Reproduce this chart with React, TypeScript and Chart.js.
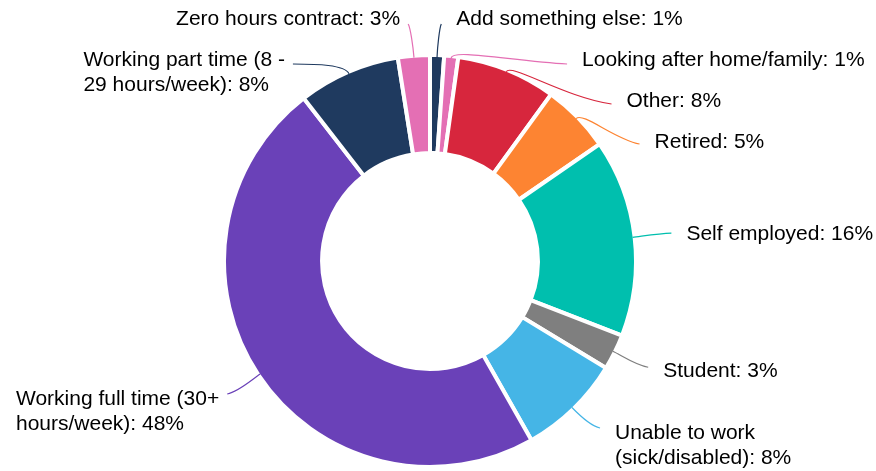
import React, { useEffect, useRef } from 'react';
import { Chart, registerables } from 'chart.js';

Chart.register(...registerables);

// Categories (explicit line breaks as in the reference)
const categories: string[][] = [
  ['Add something else'],
  ['Looking after home/family'],
  ['Other'],
  ['Retired'],
  ['Self employed'],
  ['Student'],
  ['Unable to work', '(sick/disabled)'],
  ['Working full time (30+', 'hours/week)'],
  ['Working part time (8 -', '29 hours/week)'],
  ['Zero hours contract'],
];

// Shares in percent
const shares: number[] = [1.1, 1.1, 7.8, 5.4, 15.5, 2.8, 8.1, 47.7, 8.0, 2.5];

const colors: string[] = [
  '#1f3a5f',
  '#e46fb4',
  '#d7263d',
  '#fd8432',
  '#00bfae',
  '#7f7f7f',
  '#45b5e6',
  '#6a41b8',
  '#1f3a5f',
  '#e46fb4',
];

const W = 876;
const H = 471;
const BORDER = 4;
const LABEL_DIST = 36;
const MIN_Y = 24;
const SLOT = 40;
const LINE_H = 25;
const BOTTOM_PAD = 18;
const FONT = '21px "Liberation Sans", Arial, Helvetica, sans-serif';

const labelPlugin = {
  id: 'outerLabels',
  afterDatasetsDraw(chart: any) {
    const ctx: CanvasRenderingContext2D = chart.ctx;
    const meta = chart.getDatasetMeta(0);
    const data: number[] = chart.data.datasets[0].data;
    const total = data.reduce((a, b) => a + b, 0);
    const h = chart.height;
    const items = meta.data.map((arc: any, i: number) => {
      const p = arc.getProps(['x', 'y', 'startAngle', 'endAngle', 'outerRadius'], true);
      const mid = (p.startAngle + p.endAngle) / 2;
      const ux = Math.cos(mid);
      const uy = Math.sin(mid);
      const rv = p.outerRadius - BORDER / 2;
      const rl = rv + LABEL_DIST;
      const lines = [...categories[i]];
      lines[lines.length - 1] += ': ' + Math.round((data[i] / total) * 100) + '%';
      return {
        i, cx: p.x, cy: p.y, ux, uy, rv, rl,
        tx: p.x + rv * ux, ty: p.y + rv * uy,
        nx: p.x + rl * ux, ny: p.y + rl * uy,
        right: ux >= 0, lines, ex: 0, ey: 0,
      };
    });
    for (const right of [true, false]) {
      const side = items.filter((it: any) => it.right === right).sort((a: any, b: any) => a.ny - b.ny);
      let prevY = -Infinity;
      let prevLines = 1;
      for (const it of side) {
        let y = Math.max(it.ny, MIN_Y, prevY + SLOT + (prevLines - 1) * LINE_H);
        y = Math.min(y, h - BOTTOM_PAD - (it.lines.length - 1) * LINE_H);
        it.ey = y;
        const dy = y - it.cy;
        if (Math.abs(y - it.ny) < 8) it.ex = it.nx + (right ? 1 : -1) * 3;
        else it.ex = it.cx + (right ? 1 : -1) * Math.sqrt(Math.max(it.rl * it.rl - dy * dy, 0));
        prevY = y;
        prevLines = it.lines.length;
      }
    }
    ctx.save();
    ctx.font = FONT;
    for (const it of items) {
      ctx.strokeStyle = colors[it.i];
      ctx.lineWidth = 1.2;
      ctx.beginPath();
      ctx.moveTo(it.tx, it.ty);
      const c1x = it.tx + 10 * it.ux;
      const c1y = it.ty + 10 * it.uy;
      const c2x = it.ex + (c1x - it.ex) * 0.45;
      const c2y = it.ey + (c1y - it.ey) * 0.15;
      ctx.bezierCurveTo(c1x, c1y, c2x, c2y, it.ex, it.ey);
      ctx.stroke();
      ctx.fillStyle = '#000';
      ctx.textBaseline = 'middle';
      ctx.textAlign = 'left';
      const blockW = Math.max(...it.lines.map((ln: string) => ctx.measureText(ln).width));
      const x = it.right ? it.ex + 15 : it.ex - 8 - blockW;
      const ty0 = it.ey + 1.5 + (6 * (it.ey - it.cy)) / it.rl;
      it.lines.forEach((ln: string, k: number) => {
        ctx.fillText(ln, x, ty0 + k * LINE_H);
      });
    }
    ctx.restore();
  },
};

export default function App() {
  const ref = useRef<HTMLCanvasElement | null>(null);
  useEffect(() => {
    document.body.style.margin = '0';
    const canvas = ref.current;
    if (!canvas) return;
    const chart = new Chart(canvas, {
      type: 'doughnut',
      data: {
        labels: categories.map((c) => c.join(' ')),
        datasets: [
          {
            data: shares,
            backgroundColor: colors,
            borderColor: '#ffffff',
            borderWidth: BORDER,
            hoverOffset: 0,
          },
        ],
      },
      options: {
        animation: false,
        responsive: false,
        maintainAspectRatio: false,
        cutout: '52.4%',
        layout: { padding: { left: 222, right: 238, top: 53, bottom: 2 } },
        plugins: {
          legend: { display: false },
          tooltip: { enabled: false },
        },
      },
      plugins: [labelPlugin],
    });
    return () => chart.destroy();
  }, []);
  return (
    <div style={{ position: 'absolute', left: 0, top: 0, width: W, height: H, background: '#fff' }}>
      <canvas ref={ref} width={W} height={H} style={{ width: W, height: H, display: 'block' }} />
    </div>
  );
}
